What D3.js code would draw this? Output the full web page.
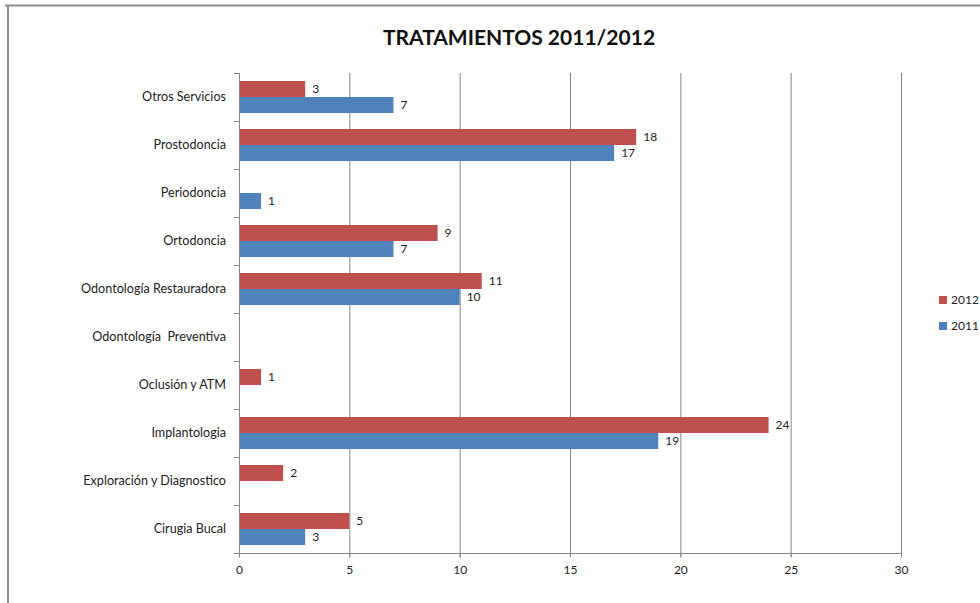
<!DOCTYPE html>
<html><head><meta charset="utf-8">
<script src="https://cdn.jsdelivr.net/npm/d3@7"></script>
<style>body{margin:0;background:#fff;} svg{display:block;} text{white-space:pre;}</style>
</head><body>
<script>
const categories = ["Otros Servicios","Prostodoncia","Periodoncia","Ortodoncia","Odontología Restauradora","Odontología  Preventiva","Oclusión y ATM","Implantologia","Exploración y Diagnostico","Cirugia Bucal"];
const series2012 = [3,18,null,9,11,null,1,24,2,5];
const series2011 = [7,17,1,7,10,null,null,19,null,3];
const seriesNames = ["2012","2011"];
const xTicks = [0,5,10,15,20,25,30];
const colors = {"2012":"#C0504D","2011":"#4F81BD"};

const W=980,H=603;
const font = "Lato, 'Open Sans', sans-serif";
const svg = d3.select("body").append("svg").attr("width",W).attr("height",H);
svg.append("rect").attr("width",W).attr("height",H).attr("fill","#fff");
// frame
svg.append("line").attr("x1",5).attr("x2",W).attr("y1",5.5).attr("y2",5.5).attr("stroke","#8c8c8c").attr("stroke-width",2);
svg.append("line").attr("x1",8).attr("x2",8).attr("y1",5).attr("y2",H).attr("stroke","#8c8c8c").attr("stroke-width",2);

const L=239,R=901,T=73,B=553;
const x = d3.scaleLinear().domain([0,30]).range([L,R]);
const y = d3.scaleBand().domain(categories).range([T,B]).paddingInner(1/3).paddingOuter(1/6);
const sub = d3.scaleBand().domain(seriesNames).range([0,y.bandwidth()]);

// gridlines
svg.append("g").selectAll("line").data(xTicks.slice(1)).join("line")
 .attr("x1",d=>x(d)+0.5).attr("x2",d=>x(d)+0.5).attr("y1",T).attr("y2",B+4)
 .attr("stroke","#868686").attr("stroke-width",1);

const rows=[];
categories.forEach((c,i)=>{
  rows.push({cat:c,s:"2012",v:series2012[i]});
  rows.push({cat:c,s:"2011",v:series2011[i]});
});
const vis = rows.filter(d=>d.v!=null);
svg.append("g").selectAll("rect").data(vis).join("rect")
 .attr("x",x(0)).attr("y",d=>y(d.cat)+sub(d.s)).attr("width",d=>x(d.v)-x(0)).attr("height",sub.bandwidth())
 .attr("fill",d=>colors[d.s]);
svg.append("g").selectAll("text").data(vis).join("text")
 .attr("x",d=>x(d.v)+7).attr("y",d=>y(d.cat)+sub(d.s)+sub.bandwidth()/2).attr("dy","0.35em")
 .attr("font-family",font).attr("font-size",12).attr("fill","#222").text(d=>d.v);

// y axis line and ticks
const gy = svg.append("g");
gy.append("line").attr("x1",L+0.5).attr("x2",L+0.5).attr("y1",T).attr("y2",B).attr("stroke","#868686");
const bounds = categories.map((c,i)=>T+i*(B-T)/categories.length).concat([B]);
gy.selectAll("line.t").data(bounds).join("line").attr("class","t")
 .attr("x1",L-5).attr("x2",L).attr("y1",d=>d+0.5).attr("y2",d=>d+0.5).attr("stroke","#868686");
gy.selectAll("text").data(categories).join("text")
 .attr("x",226).attr("y",d=>y(d)+y.bandwidth()/2).attr("dy","0.35em").attr("text-anchor","end")
 .attr("font-family",font).attr("font-size",12.6).attr("fill","#222").text(d=>d);

// x axis
const xAxis = d3.axisBottom(x).tickValues(xTicks).tickSize(4).tickPadding(8);
const gx = svg.append("g").attr("transform",`translate(0,${B+0.5})`).call(xAxis);
gx.select(".domain").attr("stroke","#868686").attr("d",`M${L},0H${R}`);
gx.selectAll(".tick line").attr("stroke","#868686");
gx.selectAll(".tick text").attr("font-family",font).attr("font-size",12).attr("fill","#222");

// title
svg.append("text").attr("x",519).attr("y",45).attr("text-anchor","middle")
 .attr("font-family",font).attr("font-weight","bold").attr("font-size",21).attr("fill","#111")
 .text("TRATAMIENTOS 2011/2012");

// legend
const lg = svg.append("g").selectAll("g").data(seriesNames).join("g")
 .attr("transform",(d,i)=>`translate(939,${300+i*26})`);
lg.append("rect").attr("x",0).attr("y",-4).attr("width",8).attr("height",8).attr("fill",d=>colors[d]);
lg.append("text").attr("x",12).attr("y",0).attr("dy","0.35em").attr("font-family",font).attr("font-size",12).attr("fill","#222").text(d=>d);
</script>
</body></html>
